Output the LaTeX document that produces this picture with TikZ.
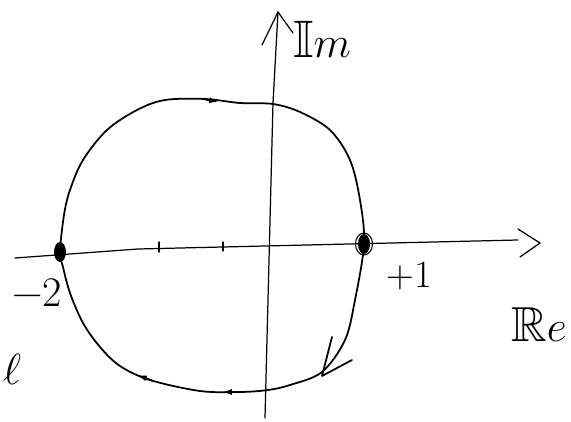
\documentclass[tikz,border=0pt]{standalone}
\usepackage{amssymb}
\usepackage{fontspec}
\usetikzlibrary{arrows.meta}
\tikzset{
  axis/.style={line width=0.7pt, line cap=round},
  contour/.style={line width=1pt, line cap=round, line join=round},
  tip/.style={-{Latex[length=5pt,width=3.5pt]}, line width=1pt},
  lab/.style={inner sep=0pt}
}
\begin{document}
\begin{tikzpicture}
            \useasboundingbox (-5.36,-3.52) rectangle (6.06,4.9);
            \coordinate (O) at (0,0);
            \coordinate (ReS) at (-5.06,-0.26);
            \coordinate (ReE) at (5.0,0.1);
            \coordinate (ImS) at (-0.06,-3.46);
            \coordinate (ImE) at (0.2,4.66);
            \coordinate (M) at (-4.16,-0.14); % -2
            \coordinate (P) at (1.92,0.02);   % +1

            % axes
            \draw[axis] (ReS) -- (-2.6,-0.08) -- (ReE);
            \draw[axis] (5.0,0.32) -- (5.44,0.04) -- (5.04,-0.24);
            \draw[axis] (ImS) -- (0.1,2.84) -- (ImE);
            \draw[axis] (-0.12,4.0) -- (ImE) -- (0.5,4.24);
            \draw[axis] (-2.18,-0.14) -- (-2.18,0.06);
            \draw[axis] (-0.9,-0.12) -- (-0.9,0.06);

            % closed path
            \draw[contour] plot[smooth cycle, tension=0.55] coordinates {
              (M) (-4.08,0.6) (-3.96,1.1) (-3.7,1.7) (-3.22,2.3) (-2.62,2.7)
              (-2.06,2.9) (-1.26,2.92) (-0.56,2.84) (0.1,2.82) (0.64,2.66)
              (1.24,2.3) (1.64,1.7) (1.84,0.9) (P) (1.74,-1.1) (1.54,-1.9)
              (1.08,-2.54) (0.44,-2.8) (0,-2.9) (-0.56,-2.94) (-1.36,-2.92)
              (-2.36,-2.7) (-2.96,-2.42) (-3.36,-2.04) (-3.7,-1.56)
              (-3.96,-0.96) (-4.1,-0.44)};
            \draw[tip] (-1.3,2.92) -- (-1.0,2.86);
            \draw[tip] (-0.6,-2.94) -- (-0.9,-2.94);
            \draw[tip] (-2.3,-2.72) -- (-2.6,-2.6);
            \draw[contour] (1.28,-1.84) -- (1.08,-2.62) -- (1.68,-2.3);

            \fill (M) ellipse (0.12 and 0.2);
            \fill (P) ellipse (0.12 and 0.2);
            \draw[line width=0.6pt] (P) ellipse (0.17 and 0.22);

            % labels
            \node[lab, font=\fontsize{24}{24}\selectfont] (m2) at (-4.62,-0.95) {−2};
            \node[lab, font=\fontsize{22}{22}\selectfont] (p1) at (2.82,-0.62) {+1};
            \node[lab, font=\fontsize{28}{28}\selectfont] (re) at (5.42,-1.6) {$\mathbb{R}e$};
            \node[lab, font=\fontsize{30}{30}\selectfont] (im) at (1.08,4.12) {$\mathbb{I}m$};
            \node[lab, font=\fontsize{26}{26}\selectfont] (l) at (-5.12,-2.48) {$\ell$};
        \end{tikzpicture}
\end{document}
